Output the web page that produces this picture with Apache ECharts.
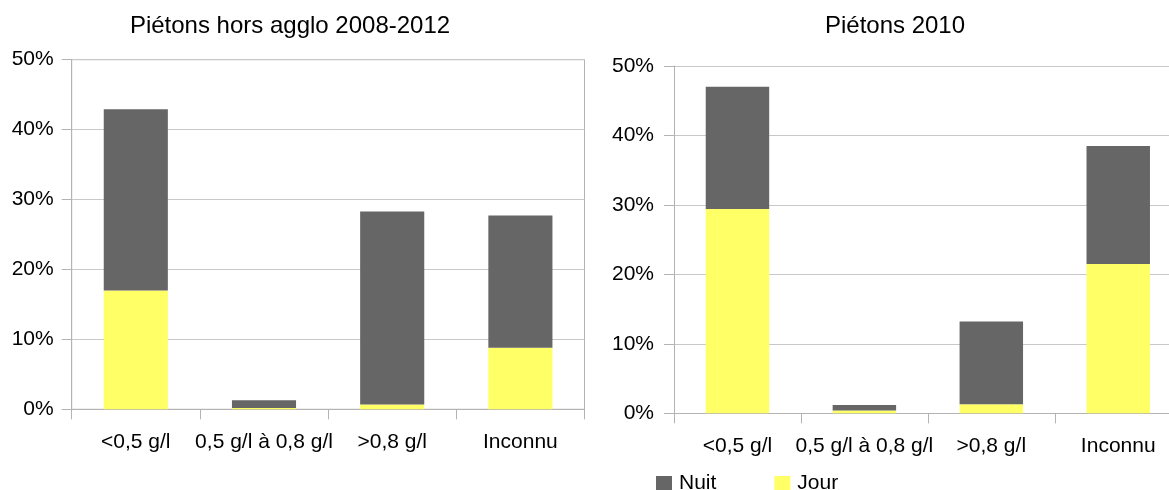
<!DOCTYPE html>
<html>
<head>
<meta charset="utf-8">
<script src="https://cdn.jsdelivr.net/npm/echarts@6/dist/echarts.min.js"></script>
<style>
  html, body { margin: 0; padding: 0; background: #ffffff; }
  #chart { width: 1169px; height: 490px; }
</style>
</head>
<body>
<div id="chart"></div>
<script>
// Catégories d'alcoolémie
const categories = ['<0,5 g/l', '0,5 g/l à 0,8 g/l', '>0,8 g/l', 'Inconnu'];

// Piétons hors agglo 2008-2012 (%)
const horsAggloJour = [17.0, 0.2, 0.7, 8.8];
const horsAggloNuit = [25.9, 1.1, 27.6, 18.9];

// Piétons 2010 (%)
const pietons2010Jour = [29.4, 0.4, 1.3, 21.5];
const pietons2010Nuit = [17.6, 0.8, 11.9, 17.0];

// Graduations de l'axe des valeurs
const yTicks = [0, 10, 20, 30, 40, 50];

const colNuit = '#666666';
const colJour = '#ffff66';
const axisGray = '#b3b3b3';
const gridGray = '#c8c8c8';
const labelFont = '"Liberation Sans", Arial, sans-serif';
const titleFont = '"Liberation Sans", Arial, sans-serif';
const labelSize = 21;

function xAxisFor(gridIndex) {
  return {
    type: 'category',
    gridIndex: gridIndex,
    data: categories,
    axisLine: { lineStyle: { color: axisGray, width: 1 } },
    axisTick: { show: true, length: 10, lineStyle: { color: axisGray } },
    axisLabel: {
      interval: 0, margin: 22, color: '#000',
      fontFamily: labelFont, fontSize: labelSize, hideOverlap: false
    },
    splitLine: { show: false }
  };
}

function yAxisFor(gridIndex, margin) {
  return {
    type: 'value',
    gridIndex: gridIndex,
    min: yTicks[0],
    max: yTicks[yTicks.length - 1],
    interval: yTicks[1] - yTicks[0],
    axisLine: { show: true, lineStyle: { color: axisGray, width: 1 } },
    axisTick: { show: true, length: 10, lineStyle: { color: axisGray } },
    axisLabel: {
      margin: margin, color: '#000',
      fontFamily: labelFont, fontSize: labelSize,
      formatter: '{value}%'
    },
    splitLine: { show: true, lineStyle: { color: gridGray, width: 1 } }
  };
}

function barSeries(name, data, idx, color) {
  return {
    name: name,
    type: 'bar',
    stack: 'total' + idx,
    xAxisIndex: idx,
    yAxisIndex: idx,
    data: data,
    barWidth: '50%',
    itemStyle: { color: color },
    emphasis: { disabled: true }
  };
}

const chart = echarts.init(document.getElementById('chart'), null, { renderer: 'canvas' });

chart.setOption({
  animation: false,
  backgroundColor: '#ffffff',
  title: [
    {
      text: 'Piétons hors agglo 2008-2012',
      left: 290, top: 14, textAlign: 'center', padding: 0,
      textStyle: { fontFamily: titleFont, fontSize: 24, fontWeight: 'normal', color: '#000', lineHeight: 24 }
    },
    {
      text: 'Piétons 2010',
      left: 895, top: 14, textAlign: 'center', padding: 0,
      textStyle: { fontFamily: titleFont, fontSize: 24, fontWeight: 'normal', color: '#000', lineHeight: 24 }
    }
  ],
  legend: {
    data: ['Nuit', 'Jour'],
    left: 656, top: 473,
    orient: 'horizontal',
    itemWidth: 16, itemHeight: 15,
    itemGap: 58,
    padding: 0,
    icon: 'rect',
    selectedMode: false,
    textStyle: { fontFamily: labelFont, fontSize: labelSize, color: '#000', padding: [0, 0, 0, 2] }
  },
  grid: [
    // left panel: framed plot area
    { left: 71.7, top: 59.7, width: 512.8, height: 349.6, show: true, borderColor: axisGray, borderWidth: 1,
      containLabel: false, outerBoundsMode: 'none' },
    // right panel: runs past the page's right edge, no frame
    { left: 674, top: 66, width: 507.7, height: 347.3, show: false,
      containLabel: false, outerBoundsMode: 'none' }
  ],
  xAxis: [xAxisFor(0), xAxisFor(1)],
  yAxis: [yAxisFor(0, 18), yAxisFor(1, 20)],
  series: [
    barSeries('Jour', horsAggloJour, 0, colJour),
    barSeries('Nuit', horsAggloNuit, 0, colNuit),
    barSeries('Jour', pietons2010Jour, 1, colJour),
    barSeries('Nuit', pietons2010Nuit, 1, colNuit)
  ]
});
</script>
</body>
</html>
